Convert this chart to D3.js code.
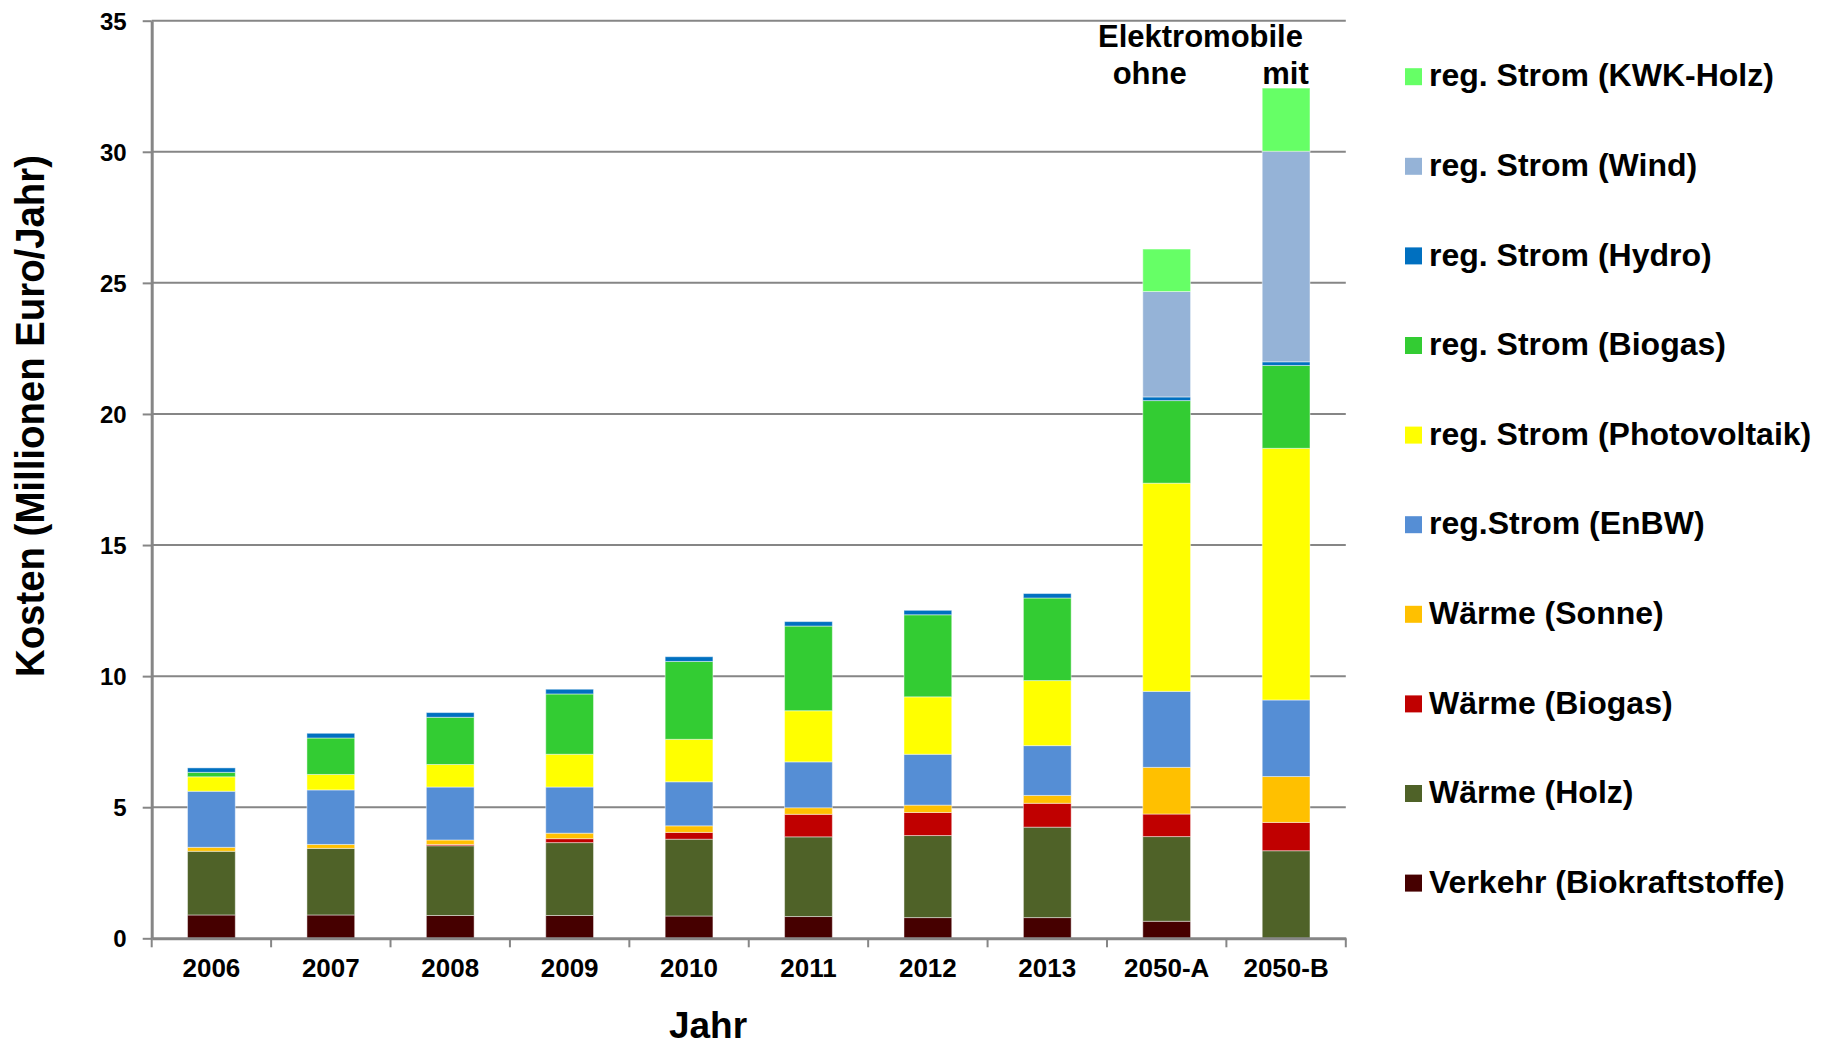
<!DOCTYPE html>
<html>
<head>
<meta charset="utf-8">
<script src="https://cdn.jsdelivr.net/npm/d3@7"></script>
<style>
  html, body { margin: 0; padding: 0; background: #ffffff; }
  svg text { font-family: "Liberation Sans", Arial, sans-serif; font-weight: bold; fill: #000; }
</style>
</head>
<body>
<svg id="chart" width="1827" height="1045"></svg>
<script>
// Categories (years / scenarios)
const categories = ["2006", "2007", "2008", "2009", "2010", "2011", "2012", "2013", "2050-A", "2050-B"];

// Costs in Mio. Euro per year, per source (bottom to top of each stack)
const verkehrBiokraftstoffe = [0.89, 0.89, 0.87, 0.87, 0.85, 0.83, 0.79, 0.79, 0.65, 0.00];
const waermeHolz            = [2.43, 2.54, 2.66, 2.78, 2.93, 3.04, 3.13, 3.45, 3.23, 3.34];
const waermeBiogas          = [0.00, 0.00, 0.05, 0.15, 0.26, 0.86, 0.88, 0.91, 0.86, 1.08];
const waermeSonne           = [0.15, 0.15, 0.17, 0.21, 0.25, 0.25, 0.28, 0.30, 1.78, 1.75];
const stromEnBW             = [2.14, 2.08, 2.02, 1.76, 1.68, 1.75, 1.94, 1.90, 2.90, 2.92];
const stromPhotovoltaik     = [0.55, 0.59, 0.86, 1.25, 1.62, 1.95, 2.19, 2.48, 7.94, 9.60];
const stromBiogas           = [0.17, 1.39, 1.80, 2.30, 2.97, 3.23, 3.13, 3.15, 3.15, 3.16];
const stromHydro            = [0.17, 0.18, 0.18, 0.18, 0.18, 0.17, 0.17, 0.17, 0.14, 0.14];
const stromWind             = [0.00, 0.00, 0.00, 0.00, 0.00, 0.00, 0.00, 0.00, 4.02, 8.03];
const stromKWKHolz          = [0.00, 0.00, 0.00, 0.00, 0.00, 0.00, 0.00, 0.00, 1.62, 2.41];

// Y axis ticks
const yTicks = [0, 5, 10, 15, 20, 25, 30, 35];

// Series in stacking order with legend names and colours
const series = [
  { key: "verkehr", name: "Verkehr (Biokraftstoffe)",     values: verkehrBiokraftstoffe, color: "#460000" },
  { key: "wHolz",   name: "Wärme (Holz)",                 values: waermeHolz,            color: "#4F6228" },
  { key: "wBiogas", name: "Wärme (Biogas)",               values: waermeBiogas,          color: "#C00000" },
  { key: "wSonne",  name: "Wärme (Sonne)",                values: waermeSonne,           color: "#FFC000" },
  { key: "sEnBW",   name: "reg.Strom (EnBW)",             values: stromEnBW,             color: "#558ED5" },
  { key: "sPV",     name: "reg. Strom (Photovoltaik)",    values: stromPhotovoltaik,     color: "#FFFF00" },
  { key: "sBiogas", name: "reg. Strom (Biogas)",          values: stromBiogas,           color: "#33CC33" },
  { key: "sHydro",  name: "reg. Strom (Hydro)",           values: stromHydro,            color: "#0070C0" },
  { key: "sWind",   name: "reg. Strom (Wind)",            values: stromWind,             color: "#95B3D7" },
  { key: "sKWK",    name: "reg. Strom (KWK-Holz)",        values: stromKWKHolz,          color: "#66FF66" }
];

// Table for d3.stack
const table = categories.map((c, i) => {
  const row = { cat: c };
  series.forEach(s => { row[s.key] = s.values[i]; });
  return row;
});

const svg = d3.select("#chart");
const plotLeft = 151.7, plotRight = 1345.8, plotTop = 20.7, plotBottom = 938.3;

const x = d3.scaleBand()
  .domain(categories)
  .range([plotLeft, plotRight])
  .paddingInner(0.6)
  .paddingOuter(0.3);

const y = d3.scaleLinear().domain([0, 35]).range([plotBottom, plotTop]);

const axisColor = "#868686";

// Horizontal gridlines
svg.append("g")
  .selectAll("line")
  .data(yTicks.filter(t => t > 0))
  .join("line")
  .attr("x1", plotLeft).attr("x2", plotRight)
  .attr("y1", d => y(d)).attr("y2", d => y(d))
  .attr("stroke", axisColor)
  .attr("stroke-width", 2);

// Stacked bars
const stacked = d3.stack().keys(series.map(s => s.key))(table);
const colorOf = Object.fromEntries(series.map(s => [s.key, s.color]));

svg.append("g")
  .selectAll("g")
  .data(stacked)
  .join("g")
  .attr("fill", d => colorOf[d.key])
  .selectAll("rect")
  .data(d => d.filter(p => p[1] - p[0] > 0))
  .join("rect")
  .attr("x", d => x(d.data.cat))
  .attr("width", x.bandwidth())
  .attr("y", d => y(d[1]))
  .attr("height", d => y(d[0]) - y(d[1]))
  .attr("stroke", "rgba(255,255,255,0.45)")
  .attr("stroke-width", 1);

// Y axis
const yAxis = svg.append("g")
  .attr("transform", `translate(${plotLeft},0)`)
  .call(d3.axisLeft(y).tickValues(yTicks).tickSize(9).tickPadding(16).tickSizeOuter(0));
yAxis.select(".domain").attr("stroke", axisColor).attr("stroke-width", 3);
yAxis.selectAll(".tick line").attr("stroke", axisColor).attr("stroke-width", 2);
yAxis.selectAll(".tick text")
  .attr("font-size", 24)
  .attr("font-family", "Liberation Sans, Arial, sans-serif")
  .attr("font-weight", "bold")
  .attr("fill", "#000")
  .attr("dy", "0.36em");

// X axis: labels under each bar, tick marks at category boundaries
const xAxis = svg.append("g")
  .attr("transform", `translate(0,${plotBottom})`)
  .call(d3.axisBottom(x).tickSize(0).tickPadding(20).tickSizeOuter(0));
xAxis.select(".domain").attr("stroke", axisColor).attr("stroke-width", 3);
xAxis.selectAll(".tick text")
  .attr("font-size", 26)
  .attr("font-family", "Liberation Sans, Arial, sans-serif")
  .attr("font-weight", "bold")
  .attr("fill", "#000")
  .attr("dy", "0.71em");

const step = x.step();
const boundaries = categories.map(c => x(c) + x.bandwidth() / 2 - step / 2)
  .concat([x(categories[categories.length - 1]) + x.bandwidth() / 2 + step / 2]);
svg.append("g")
  .selectAll("line")
  .data(boundaries)
  .join("line")
  .attr("x1", d => d).attr("x2", d => d)
  .attr("y1", plotBottom).attr("y2", plotBottom + 9)
  .attr("stroke", axisColor)
  .attr("stroke-width", 2);

// Axis titles
svg.append("text")
  .attr("x", 708)
  .attr("y", 1038)
  .attr("text-anchor", "middle")
  .attr("font-size", 37)
  .text("Jahr");

svg.append("text")
  .attr("transform", `translate(44, ${(155 + 677) / 2}) rotate(-90)`)
  .attr("text-anchor", "middle")
  .attr("font-size", 40)
  .attr("textLength", 522)
  .attr("lengthAdjust", "spacingAndGlyphs")
  .text("Kosten (Millionen Euro/Jahr)");

// Scenario annotation above the 2050 bars
const xA = x("2050-A"), xB = x("2050-B"), bw = x.bandwidth();
svg.append("text")
  .attr("x", xB + bw - 7).attr("y", 47.3)
  .attr("text-anchor", "end")
  .attr("font-size", 31)
  .text("Elektromobile");
svg.append("text")
  .attr("x", xA + bw / 2 - 17).attr("y", 84)
  .attr("text-anchor", "middle")
  .attr("font-size", 31)
  .text("ohne");
svg.append("text")
  .attr("x", xB).attr("y", 84)
  .attr("text-anchor", "start")
  .attr("font-size", 31)
  .text("mit");

// Legend (top series first)
const legendItems = series.slice().reverse();
const legend = svg.append("g")
  .selectAll("g")
  .data(legendItems)
  .join("g")
  .attr("transform", (d, i) => `translate(1405, ${76.7 + i * 89.6})`);
legend.append("rect")
  .attr("x", 0).attr("y", -8.5)
  .attr("width", 17).attr("height", 17)
  .attr("fill", d => d.color);
legend.append("text")
  .attr("x", 24).attr("y", 0)
  .attr("dy", "0.3em")
  .attr("font-size", 32)
  .text(d => d.name);
</script>
</body>
</html>
